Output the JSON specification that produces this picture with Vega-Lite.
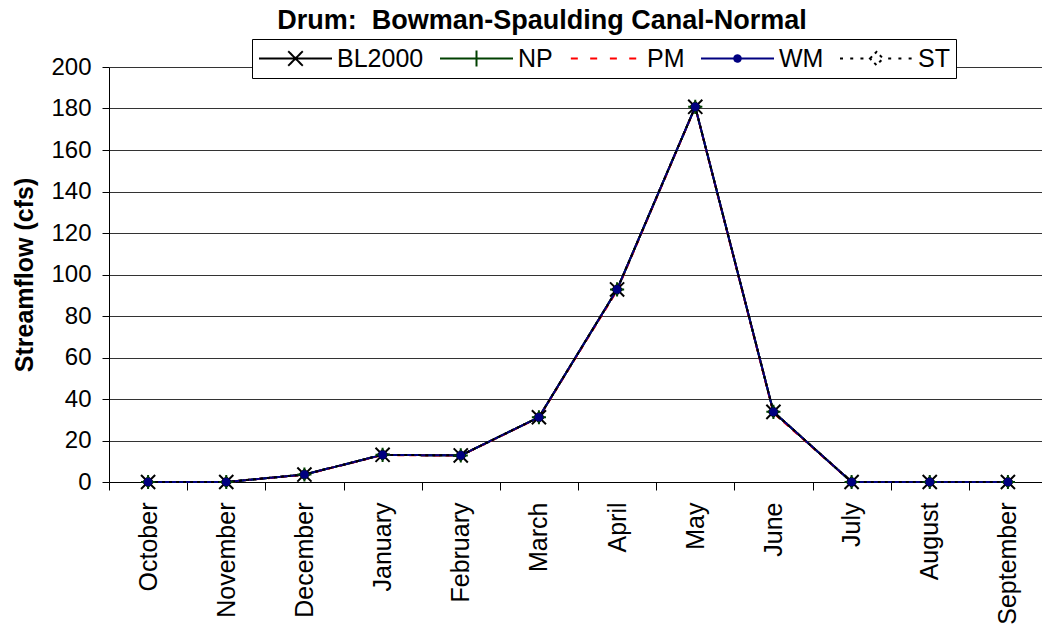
{
  "$schema": "https://vega.github.io/schema/vega-lite/v6.json",
  "width": 938,
  "height": 415,
  "autosize": {"type": "none"},
  "padding": {"left": 109, "top": 67, "right": -5, "bottom": 144},
  "background": "white",
  "config": {"view": {"stroke": null}, "font": "Liberation Sans"},
  "title": {"text": "Drum:\u00a0 Bowman-Spaulding Canal-Normal", "font": "Liberation Sans", "fontSize": 27, "fontWeight": "bold", "color": "black", "anchor": "middle", "dx": -36, "offset": 4},
  "data": {"values": [
    {"series": "BL2000", "month": "October", "flow": 0},
    {"series": "BL2000", "month": "November", "flow": 0},
    {"series": "BL2000", "month": "December", "flow": 3.6},
    {"series": "BL2000", "month": "January", "flow": 13.1},
    {"series": "BL2000", "month": "February", "flow": 12.8},
    {"series": "BL2000", "month": "March", "flow": 31.2},
    {"series": "BL2000", "month": "April", "flow": 92.8},
    {"series": "BL2000", "month": "May", "flow": 180.8},
    {"series": "BL2000", "month": "June", "flow": 33.8},
    {"series": "BL2000", "month": "July", "flow": 0},
    {"series": "BL2000", "month": "August", "flow": 0},
    {"series": "BL2000", "month": "September", "flow": 0},
    {"series": "NP", "month": "October", "flow": 0},
    {"series": "NP", "month": "November", "flow": 0},
    {"series": "NP", "month": "December", "flow": 3.6},
    {"series": "NP", "month": "January", "flow": 13.1},
    {"series": "NP", "month": "February", "flow": 12.8},
    {"series": "NP", "month": "March", "flow": 31.2},
    {"series": "NP", "month": "April", "flow": 92.8},
    {"series": "NP", "month": "May", "flow": 180.8},
    {"series": "NP", "month": "June", "flow": 33.8},
    {"series": "NP", "month": "July", "flow": 0},
    {"series": "NP", "month": "August", "flow": 0},
    {"series": "NP", "month": "September", "flow": 0},
    {"series": "PM", "month": "October", "flow": 0},
    {"series": "PM", "month": "November", "flow": 0},
    {"series": "PM", "month": "December", "flow": 3.5},
    {"series": "PM", "month": "January", "flow": 13.0},
    {"series": "PM", "month": "February", "flow": 12.7},
    {"series": "PM", "month": "March", "flow": 31.0},
    {"series": "PM", "month": "April", "flow": 92.3},
    {"series": "PM", "month": "May", "flow": 180.6},
    {"series": "PM", "month": "June", "flow": 33.3},
    {"series": "PM", "month": "July", "flow": 0},
    {"series": "PM", "month": "August", "flow": 0},
    {"series": "PM", "month": "September", "flow": 0},
    {"series": "WM", "month": "October", "flow": 0},
    {"series": "WM", "month": "November", "flow": 0},
    {"series": "WM", "month": "December", "flow": 3.6},
    {"series": "WM", "month": "January", "flow": 13.1},
    {"series": "WM", "month": "February", "flow": 12.8},
    {"series": "WM", "month": "March", "flow": 31.2},
    {"series": "WM", "month": "April", "flow": 92.8},
    {"series": "WM", "month": "May", "flow": 180.8},
    {"series": "WM", "month": "June", "flow": 33.8},
    {"series": "WM", "month": "July", "flow": 0},
    {"series": "WM", "month": "August", "flow": 0},
    {"series": "WM", "month": "September", "flow": 0},
    {"series": "ST", "month": "October", "flow": 0},
    {"series": "ST", "month": "November", "flow": 0},
    {"series": "ST", "month": "December", "flow": 3.6},
    {"series": "ST", "month": "January", "flow": 13.1},
    {"series": "ST", "month": "February", "flow": 12.8},
    {"series": "ST", "month": "March", "flow": 31.2},
    {"series": "ST", "month": "April", "flow": 92.8},
    {"series": "ST", "month": "May", "flow": 180.8},
    {"series": "ST", "month": "June", "flow": 33.8},
    {"series": "ST", "month": "July", "flow": 0},
    {"series": "ST", "month": "August", "flow": 0},
    {"series": "ST", "month": "September", "flow": 0}
  ]},
  "encoding": {
    "x": {
      "field": "month", "type": "nominal",
      "sort": ["October", "November", "December", "January", "February", "March", "April", "May", "June", "July", "August", "September"],
      "scale": {"type": "band", "paddingInner": 0, "paddingOuter": 0},
      "axis": {"title": null, "labelAngle": -90, "labelFont": "Liberation Sans", "labelFontSize": 25, "labelColor": "black", "tickBand": "extent", "tickSize": 8, "tickColor": "black", "domainColor": "black", "labelPadding": 12, "grid": false, "labelLimit": 300}
    },
    "y": {
      "field": "flow", "type": "quantitative",
      "scale": {"domain": [0, 200]},
      "axis": {"title": "Streamflow (cfs)", "titleFont": "Liberation Sans", "titleFontSize": 25, "titleFontWeight": "bold", "titleColor": "black", "titlePadding": 13, "values": [0, 20, 40, 60, 80, 100, 120, 140, 160, 180, 200], "labelFont": "Liberation Sans", "labelFontSize": 24, "labelColor": "black", "tickSize": 7, "tickColor": "black", "labelPadding": 11, "domainColor": "black", "grid": true, "gridColor": "#333333", "gridWidth": 1}
    }
  },
  "layer": [
    {
      "mark": {"type": "line", "strokeWidth": 2},
      "encoding": {
        "color": {
          "field": "series", "type": "nominal",
          "scale": {"domain": ["BL2000", "NP", "PM", "WM", "ST"], "range": ["#000000", "#004000", "#ff0000", "#000080", "#000000"]},
          "legend": {
            "title": null, "orient": "none", "legendX": 143, "legendY": -28, "direction": "horizontal", "columns": 5, "columnPadding": 15,
            "padding": 6, "strokeColor": "black", "fillColor": "white", "clipHeight": 27, "symbolSize": 5329, "symbolStrokeWidth": 2,
            "labelOffset": 4, "labelFont": "Liberation Sans", "labelFontSize": 25, "labelColor": "black", "labelLimit": 300,
            "encode": {"symbols": {"update": {
              "shape": {"signal": "datum.value === 'BL2000' ? 'M-1,0H1M-0.2,-0.2L0.2,0.2M-0.2,0.2L0.2,-0.2' : datum.value === 'NP' ? 'M-1,0H1M0,-0.22V0.22' : datum.value === 'PM' ? 'M-0.95,0H-0.65M-0.42,0H-0.12M0.12,0H0.42M0.65,0H0.95' : datum.value === 'WM' ? 'M-1,0H1M-0.09,0A0.09,0.09,0,1,1,0.09,0A0.09,0.09,0,1,1,-0.09,0' : 'M-1,0H-0.88M-0.72,0H-0.6M-0.44,0H-0.32M0.32,0H0.44M0.6,0H0.72M0.88,0H1M-0.18,0L0,-0.18L0.18,0L0,0.18Z'"},
              "fill": {"signal": "datum.value === 'WM' ? '#000080' : datum.value === 'ST' ? 'white' : 'transparent'"},
              "fillOpacity": {"value": 1},
              "strokeDash": {"value": [1, 0]}
            }}}
          }
        },
        "strokeDash": {
          "field": "series", "type": "nominal",
          "scale": {"domain": ["BL2000", "NP", "PM", "WM", "ST"], "range": [[1, 0], [1, 0], [7, 5], [1, 0], [3, 4]]},
          "legend": null
        }
      }
    },
    {
      "transform": [{"filter": "datum.series === 'ST'"}],
      "mark": {"type": "point", "shape": "diamond", "size": 110, "filled": true, "fill": "white", "stroke": "black", "strokeWidth": 1.5, "opacity": 1}
    },
    {
      "transform": [{"filter": "datum.series === 'NP'"}],
      "mark": {"type": "point", "shape": "M-1,0H1M0,-1V1", "size": 200, "filled": false, "stroke": "#004000", "strokeWidth": 2, "opacity": 1}
    },
    {
      "transform": [{"filter": "datum.series === 'BL2000'"}],
      "mark": {"type": "point", "shape": "M-1,-1L1,1M-1,1L1,-1", "size": 200, "filled": false, "stroke": "black", "strokeWidth": 2, "opacity": 1}
    },
    {
      "transform": [{"filter": "datum.series === 'WM'"}],
      "mark": {"type": "point", "shape": "circle", "size": 75, "filled": true, "color": "#000080", "opacity": 1}
    }
  ]
}
